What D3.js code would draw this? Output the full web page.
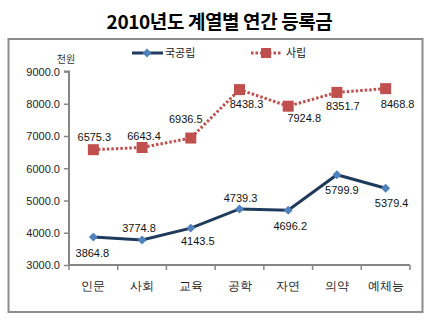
<!DOCTYPE html>
<html>
<head>
<meta charset="utf-8">
<script src="https://cdn.jsdelivr.net/npm/d3@7"></script>
<style>
  html, body { margin: 0; padding: 0; background: #fff; }
  svg { display: block; font-family: "Noto Sans CJK KR", "Noto Sans", sans-serif; }
</style>
</head>
<body>
<svg id="chart" width="431" height="321"></svg>
<script>
// 2010 annual tuition by field (unit: thousand won)
const categories = ["인문", "사회", "교육", "공학", "자연", "의약", "예체능"];
const seriesNames = ["국공립", "사립"];
const publicValues = [3864.8, 3774.8, 4143.5, 4739.3, 4696.2, 5799.9, 5379.4];
const privateValues = [6575.3, 6643.4, 6936.5, 8438.3, 7924.8, 8351.7, 8468.8];
const yTicks = [3000, 4000, 5000, 6000, 7000, 8000, 9000];

// value-label offsets from each marker [dx, dy to baseline]
const publicLabelOffsets = [[-1, 20], [-3, -8], [7, 17], [1, -7], [2, 20], [5, 19], [6, 19]];
const privateLabelOffsets = [[1, -9], [2, -8], [-5, -15], [7, 18], [16, 16], [6, 18], [12, 19]];

const svg = d3.select("#chart");
const W = 431;

const blueLine = "#1f3b5c";
const blueMarker = "#4f81bd";
const red = "#c0504d";

// title
svg.append("text")
  .attr("x", W / 2 + 4).attr("y", 29)
  .attr("text-anchor", "middle")
  .attr("font-size", 19).attr("font-weight", "bold")
  .attr("fill", "#000")
  .attr("letter-spacing", -0.4)
  .text("2010년도 계열별 연간 등록금");

// frame
svg.append("rect")
  .attr("x", 8.5).attr("y", 39).attr("width", 414).attr("height", 273)
  .attr("fill", "none").attr("stroke", "#8c8c8c").attr("stroke-width", 2);

const x = d3.scaleBand().domain(categories).range([69, 410]).padding(0);
const y = d3.scaleLinear().domain([3000, 9000]).range([265, 71.5]);

// y axis
const yAxis = d3.axisLeft(y).tickValues(yTicks).tickSize(5).tickFormat(d3.format(".1f"));
const gy = svg.append("g").attr("transform", "translate(69,0)").call(yAxis);
gy.select(".domain").attr("stroke", "#868686").attr("stroke-width", 2).attr("d", `M-5,${y(9000)}H0V${y(3000)}`);
gy.selectAll(".tick line").attr("stroke", "#868686").attr("stroke-width", 1.5);
gy.selectAll(".tick text").attr("font-size", 11).attr("fill", "#222")
  .attr("font-family", "'Liberation Sans', Arial, sans-serif").attr("x", -9).attr("dy", "0.35em");

// x axis with ticks at category boundaries
const xAxis = d3.axisBottom(x).tickSize(0).tickPadding(16);
const gx = svg.append("g").attr("transform", `translate(0,${y(3000)})`).call(xAxis);
gx.select(".domain").attr("stroke", "#868686").attr("stroke-width", 2).attr("d", "M69,0H410");
gx.selectAll(".tick text").attr("font-size", 12).attr("fill", "#222");
const bounds = categories.map(c => x(c)).concat([x.range()[1]]);
gx.selectAll(".bound").data(bounds).enter().append("line")
  .attr("x1", d => d).attr("x2", d => d).attr("y1", 0).attr("y2", 5)
  .attr("stroke", "#868686").attr("stroke-width", 1.5);

// unit label
svg.append("text").attr("x", 66).attr("y", 63).attr("text-anchor", "middle")
  .attr("font-size", 10).attr("fill", "#333").text("천원");

const cx = c => x(c) + x.bandwidth() / 2;
const line = d3.line().x((d, i) => cx(categories[i])).y(d => y(d));

// private series: dotted red line with squares
svg.append("path").datum(privateValues).attr("d", line)
  .attr("fill", "none").attr("stroke", red).attr("stroke-width", 3)
  .attr("stroke-dasharray", "2.5,2");
svg.selectAll(".sq").data(privateValues).enter().append("rect")
  .attr("x", (d, i) => cx(categories[i]) - 5.5).attr("y", d => y(d) - 5.5)
  .attr("width", 11).attr("height", 11).attr("fill", red);

// public series: solid navy line with diamonds
svg.append("path").datum(publicValues).attr("d", line)
  .attr("fill", "none").attr("stroke", blueLine).attr("stroke-width", 3);
svg.selectAll(".dm").data(publicValues).enter().append("path")
  .attr("d", d3.symbol().type(d3.symbolSquare).size(40))
  .attr("transform", (d, i) => `translate(${cx(categories[i])},${y(d)}) rotate(45)`)
  .attr("fill", blueMarker);

// value labels
function addLabels(values, offsets) {
  svg.selectAll(null).data(values).enter().append("text")
    .attr("x", (d, i) => cx(categories[i]) + offsets[i][0])
    .attr("y", (d, i) => y(d) + offsets[i][1])
    .attr("text-anchor", "middle")
    .attr("font-size", 11).attr("fill", "#111")
    .attr("font-family", "'Liberation Sans', Arial, sans-serif")
    .text(d => d3.format(".1f")(d));
}
addLabels(publicValues, publicLabelOffsets);
addLabels(privateValues, privateLabelOffsets);

// legend
const lg = svg.append("g");
lg.append("line").attr("x1", 132).attr("x2", 163).attr("y1", 53).attr("y2", 53)
  .attr("stroke", blueLine).attr("stroke-width", 3);
lg.append("path").attr("d", d3.symbol().type(d3.symbolSquare).size(40))
  .attr("transform", "translate(147,53) rotate(45)").attr("fill", blueMarker);
lg.append("text").attr("x", 165).attr("y", 57).attr("font-size", 11).attr("fill", "#222").text(seriesNames[0]);
lg.append("line").attr("x1", 251).attr("x2", 281).attr("y1", 53).attr("y2", 53)
  .attr("stroke", red).attr("stroke-width", 3).attr("stroke-dasharray", "2.5,2");
lg.append("rect").attr("x", 261).attr("y", 48).attr("width", 10).attr("height", 10).attr("fill", red);
lg.append("text").attr("x", 286).attr("y", 57).attr("font-size", 11).attr("fill", "#222").text(seriesNames[1]);
</script>
</body>
</html>
